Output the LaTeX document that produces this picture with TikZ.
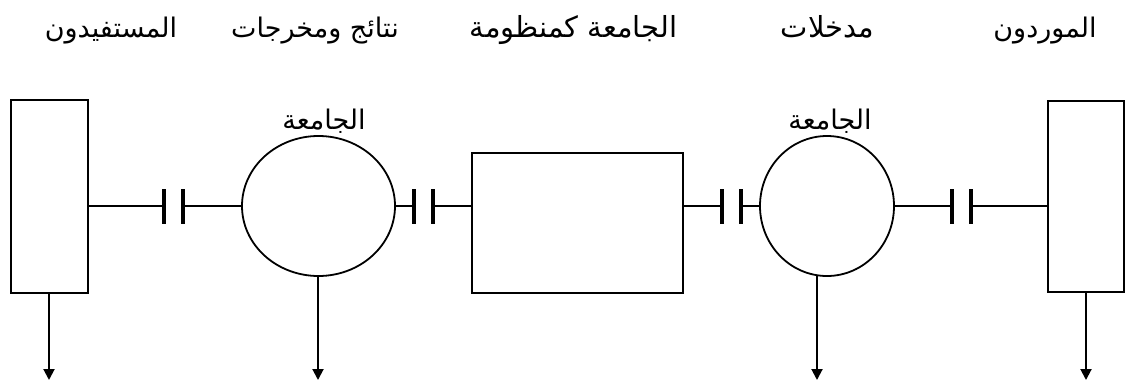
\documentclass[tikz,border=0pt]{standalone}
\usepackage{fontspec}
\newfontfamily\arabicfont[Script=Arabic]{DejaVu Sans}
\TeXXeTstate=1
\usetikzlibrary{shapes.geometric,arrows.meta}
\begin{document}
\begin{tikzpicture}[x=1pt,y=-1pt,
  shp/.style={draw,line width=1.8pt,inner sep=0pt,outer sep=0pt},
  box/.style={shp,rectangle},
  oval/.style={shp,ellipse},
  conn/.style={line width=2.8pt},
  barline/.style={line width=3.2pt},
  outarrow/.style={line width=2pt,-{Triangle[width=11pt,length=11pt]}},
  lbl/.style={font=\arabicfont\fontsize{27}{29}\selectfont,inner sep=0pt,anchor=base},
  lblbig/.style={lbl,font=\arabicfont\fontsize{29}{31}\selectfont}
]
\useasboundingbox (0,0) rectangle (1126,383);

% shapes
\node[box,minimum width=77pt,minimum height=193pt] (ben) at (49.5,196.5) {};
\node[oval,minimum width=153pt,minimum height=140pt] (uout) at (318.5,206) {};
\node[box,minimum width=211pt,minimum height=140pt] (sys) at (577.5,223) {};
\node[oval,minimum width=134pt,minimum height=140pt] (uin) at (827,206) {};
\node[box,minimum width=76pt,minimum height=191pt] (sup) at (1086,196.5) {};

% bar positions
\coordinate (b1a) at (164,206); \coordinate (b1b) at (183,206);
\coordinate (b2a) at (414,206); \coordinate (b2b) at (433,206);
\coordinate (b3a) at (722,206); \coordinate (b3b) at (741,206);
\coordinate (b4a) at (952,206); \coordinate (b4b) at (971,206);

% connectors
\draw[conn] (b1a -| ben.east) -- (b1a);
\draw[conn] (b1b) -- (uout.west);
\draw[conn] (uout.east) -- (b2a);
\draw[conn] (b2b) -- (b2b -| sys.west);
\draw[conn] (b3a -| sys.east) -- (b3a);
\draw[conn] (b3b) -- (uin.west);
\draw[conn] (uin.east) -- (b4a);
\draw[conn] (b4b) -- (b4b -| sup.west);

% bars
\foreach \b in {b1a,b1b,b2a,b2b,b3a,b3b,b4a,b4b}
  \draw[barline] ([yshift=-17.5pt]\b) -- ([yshift=17.5pt]\b);

% outputs
\coordinate (d1) at (49,380);
\coordinate (d2) at (318,380);
\coordinate (d3) at (817,380);
\coordinate (d4) at (1086,380);
\draw[outarrow] (ben.south -| d1) -- (d1);
\draw[outarrow] (uout.south -| d2) -- (d2);
\draw[outarrow] (uin.south -| d3) -- (d3);
\draw[outarrow] (sup.south -| d4) -- (d4);

% labels
\node[lbl] (t1) at (111,37) {\beginR المستفيدون\endR};
\node[lbl] (t2) at (315,37) {\beginR نتائج ومخرجات\endR};
\node[lblbig] (t3) at (573.5,37) {\beginR الجامعة كمنظومة\endR};
\node[lblbig] (t4) at (827.5,37) {\beginR مدخلات\endR};
\node[lbl] (t5) at (1045,37) {\beginR الموردون\endR};
\node[lbl] (t6) at (324,129) {\beginR الجامعة\endR};
\node[lbl] (t7) at (830,129) {\beginR الجامعة\endR};
\end{tikzpicture}
\end{document}
